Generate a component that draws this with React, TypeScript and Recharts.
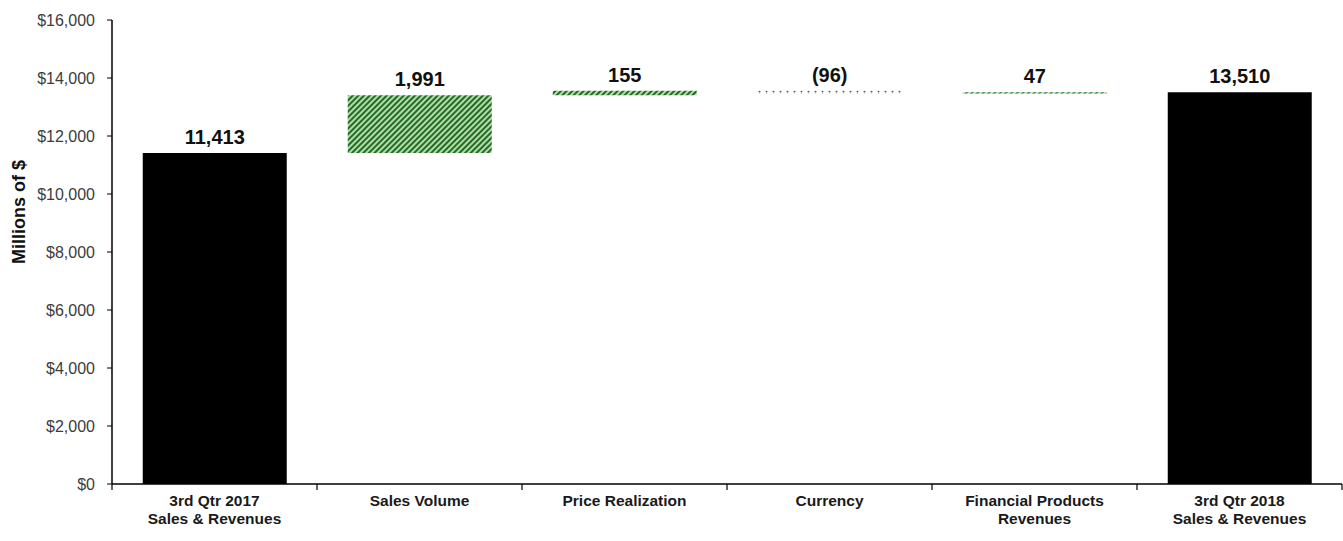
import React from "react";
import { BarChart, Bar, XAxis, YAxis, Cell, LabelList } from "recharts";

const categoryLines = [
  ["3rd Qtr 2017", "Sales & Revenues"],
  ["Sales Volume"],
  ["Price Realization"],
  ["Currency"],
  ["Financial Products", "Revenues"],
  ["3rd Qtr 2018", "Sales & Revenues"],
];
const amounts = [11413, 1991, 155, -96, 47, 13510];
const kinds = ["total", "up", "up", "down", "up", "total"];
const valueLabels = ["11,413", "1,991", "155", "(96)", "47", "13,510"];
const yTicks = [0, 2000, 4000, 6000, 8000, 10000, 12000, 14000, 16000];

const FONT = "'Liberation Sans Narrow', 'Arial Narrow', 'Liberation Sans', Arial, sans-serif";
const W = 1343;
const H = 541;
const PLOT_LEFT = 112;
const PLOT_RIGHT = 1342;
const BAND = (PLOT_RIGHT - PLOT_LEFT) / categoryLines.length;

let running = 0;
const rows = amounts.map((v, i) => {
  let base: number;
  let span: number;
  if (kinds[i] === "total") {
    base = 0;
    span = v;
    running = v;
  } else {
    const end = running + v;
    base = Math.min(running, end);
    span = Math.abs(v);
    running = end;
  }
  return { name: categoryLines[i].join("\n"), base, span };
});

const fillFor = (k: string) =>
  k === "total" ? "#000" : k === "up" ? "url(#hatch)" : "url(#dots)";

function CategoryTick(props: any) {
  const { x, y, index } = props;
  const lines = categoryLines[index] || [];
  const last = index === categoryLines.length - 1;
  return (
    <g>
      <line x1={x - BAND / 2} x2={x - BAND / 2} y1={y} y2={y + 6} stroke="#000" strokeWidth={1.2} />
      {last && <line x1={x + BAND / 2} x2={x + BAND / 2} y1={y} y2={y + 6} stroke="#000" strokeWidth={1.2} />}
      <text x={x} y={y + 22} textAnchor="middle" fontFamily={FONT} fontSize={15.5} fontWeight="bold" fill="#1a1a1a">
        {lines.map((l, i) => (
          <tspan key={i} x={x} dy={i === 0 ? 0 : 18}>
            {l}
          </tspan>
        ))}
      </text>
    </g>
  );
}

function ValueLabel(props: any) {
  const { x, y, width, index } = props;
  return (
    <text x={x + width / 2} y={y - 9} textAnchor="middle" fontFamily={FONT} fontSize={20} fontWeight="bold" fill="#111">
      {valueLabels[index]}
    </text>
  );
}

export default function App() {
  return (
    <div style={{ position: "absolute", left: 0, top: 0, background: "#fff" }}>
      <BarChart
        width={W}
        height={H}
        data={rows}
        margin={{ top: 20, right: W - PLOT_RIGHT, bottom: 0, left: 0 }}
        barCategoryGap="15%"
      >
        <defs>
          <pattern id="hatch" width={4} height={4} patternUnits="userSpaceOnUse" patternTransform="rotate(45)">
            <rect width={4} height={4} fill="#b2dcaa" />
            <line x1={1} y1={0} x2={1} y2={4} stroke="#236b25" strokeWidth={2} />
          </pattern>
          <pattern id="dots" width={7} height={3} patternUnits="userSpaceOnUse">
            <rect width={7} height={3} fill="#fff" />
            <circle cx={3.5} cy={1.5} r={1} fill="#555" />
          </pattern>
        </defs>
        <XAxis
          dataKey="name"
          height={57}
          interval={0}
          tick={<CategoryTick />}
          tickLine={false}
          tickSize={0}
          tickMargin={0}
          axisLine={{ stroke: "#000", strokeWidth: 1.5 }}
        />
        <YAxis
          width={PLOT_LEFT}
          domain={[0, 16000]}
          ticks={yTicks}
          interval={0}
          tickSize={5}
          tickMargin={12}
          tickFormatter={(v: number) => "$" + v.toLocaleString("en-US")}
          tick={{ fontFamily: FONT, fontSize: 16, fill: "#3c3c3c" }}
          tickLine={{ stroke: "#000" }}
          axisLine={{ stroke: "#000", strokeWidth: 1.5 }}
          label={() => (
            <text
              x={20}
              y={212}
              transform="rotate(-90, 20, 212)"
              textAnchor="middle"
              dominantBaseline="middle"
              fontFamily={FONT}
              fontSize={18}
              fontWeight="bold"
              fill="#111"
            >
              Millions of $
            </text>
          )}
        />
        <Bar dataKey="base" stackId="w" fill="transparent" isAnimationActive={false} />
        <Bar dataKey="span" stackId="w" isAnimationActive={false}>
          {rows.map((_, i) => (
            <Cell key={i} fill={fillFor(kinds[i])} />
          ))}
          <LabelList dataKey="span" content={<ValueLabel />} />
        </Bar>
      </BarChart>
    </div>
  );
}
